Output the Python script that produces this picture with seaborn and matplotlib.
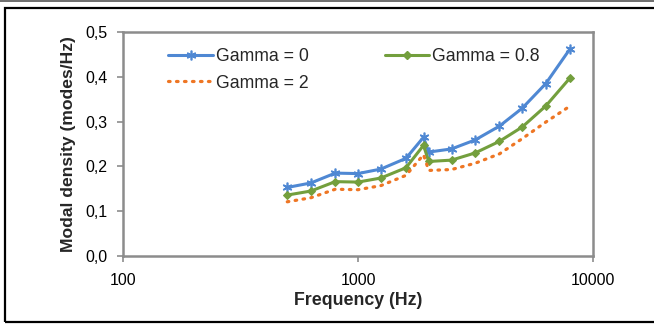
import numpy as np
import pandas as pd
import seaborn as sns
import matplotlib.pyplot as plt
from matplotlib.patches import Rectangle
from matplotlib.lines import Line2D
from matplotlib.ticker import FixedLocator, FuncFormatter

# data
freq = [500, 630, 800, 1000, 1250, 1600, 1900, 2000, 2500, 3150, 4000, 5000, 6300, 8000]
gamma_0 = [0.153, 0.163, 0.185, 0.184, 0.194, 0.218, 0.265, 0.232, 0.239, 0.259, 0.290, 0.330, 0.385, 0.463]
gamma_08 = [0.136, 0.145, 0.166, 0.165, 0.174, 0.197, 0.247, 0.211, 0.214, 0.230, 0.256, 0.288, 0.335, 0.398]
gamma_2 = [0.121, 0.130, 0.149, 0.148, 0.157, 0.180, 0.226, 0.191, 0.193, 0.207, 0.228, 0.262, 0.299, 0.335]
labels = ['Gamma = 0', 'Gamma = 0.8', 'Gamma = 2']

sns.set_theme(style='white')
plt.rcParams['font.family'] = ['Liberation Sans', 'DejaVu Sans']

fig = plt.figure(figsize=(6.54, 3.25), dpi=100)
ax = fig.add_axes([123 / 654, 1 - 256 / 325, 470 / 654, 224 / 325])

blue, green, orange = '#4F88D3', '#739F3D', '#EE7624'
dots = (0, (0.5, 2.0))

sns.lineplot(x=freq, y=gamma_0, ax=ax, color=blue, lw=2.2, marker=(6, 2, 0),
             markersize=7, markeredgecolor=blue, markeredgewidth=1.2)
sns.lineplot(x=freq, y=gamma_08, ax=ax, color=green, lw=2.2, marker='D',
             markersize=4.5, markeredgecolor=green)
sns.lineplot(x=freq, y=gamma_2, ax=ax, color=orange, lw=2.3, linestyle=dots)
ax.get_lines()[-1].set_dash_capstyle('round')

ax.set_xscale('log')
ax.set_xlim(100, 10000)
ax.set_ylim(0, 0.5)
ax.xaxis.set_major_locator(FixedLocator([100, 1000, 10000]))
ax.xaxis.set_minor_locator(FixedLocator([]))
ax.xaxis.set_major_formatter(FuncFormatter(lambda v, p: f'{v:.0f}'))
ax.set_yticks(np.arange(0, 0.51, 0.1))
ax.yaxis.set_major_formatter(FuncFormatter(lambda v, p: f'{v:.1f}'.replace('.', ',')))

for s in ax.spines.values():
    s.set_color('#8C8C8C')
    s.set_linewidth(1.8)
ax.tick_params(axis='both', which='major', length=4, width=1.2, color='#8C8C8C',
               labelsize=11.5, labelcolor='black', direction='out')
ax.tick_params(axis='y', pad=7, left=True)
ax.tick_params(axis='x', pad=8, bottom=True)
ax.grid(False)

ax.set_xlabel('Frequency (Hz)', fontsize=12.8, fontweight='bold', labelpad=3)
ax.set_ylabel('Modal density (modes/Hz)', fontsize=12.6, fontweight='bold', labelpad=7)

handles = [
    Line2D([], [], color=blue, lw=2.2, marker=(6, 2, 0), markersize=7, markeredgewidth=1.2),
    Line2D([], [], color=orange, lw=2.3, linestyle=dots, dash_capstyle='round'),
    Line2D([], [], color=green, lw=2.2, marker='D', markersize=4.5),
]
ax.legend(handles, [labels[0], labels[2], labels[1]], ncol=2, frameon=False,
          loc='upper left', bbox_to_anchor=(0.063, 1.0), fontsize=12.7,
          handlelength=2.5, handletextpad=0.2, columnspacing=4.3, labelspacing=0.55,
          borderaxespad=0.5)

# outer frame of the figure image
fig.patches.append(Rectangle((5 / 654, 3 / 325), 660 / 654, 314 / 325, transform=fig.transFigure,
                             fill=False, edgecolor='black', lw=1.6))
fig.add_artist(Line2D([0, 1], [1 - 0.8 / 325, 1 - 0.8 / 325], color='#555555', lw=1.2,
                      transform=fig.transFigure))

fig.savefig('out.png', dpi=100)
